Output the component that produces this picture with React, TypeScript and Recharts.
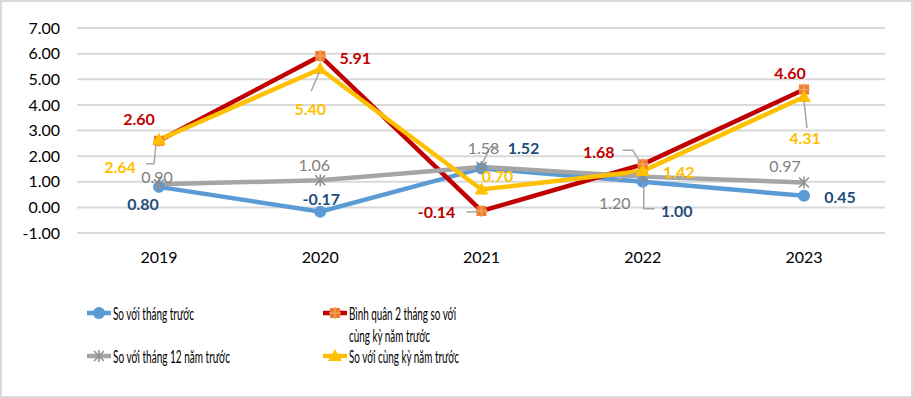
import React from 'react';
import { LineChart, Line, XAxis, YAxis, CartesianGrid, LabelList } from 'recharts';

const years = ['2019', '2020', '2021', '2022', '2023'];
const soVoiThangTruoc = [0.8, -0.17, 1.52, 1.0, 0.45];
const binhQuan2Thang = [2.6, 5.91, -0.14, 1.68, 4.6];
const soVoiThang12 = [0.9, 1.06, 1.58, 1.2, 0.97];
const soVoiCungKy = [2.64, 5.4, 0.7, 1.42, 4.31];
const yTicks = [-1, 0, 1, 2, 3, 4, 5, 6, 7];

// label placement (offset of the label centre from its point), tuned by eye
const blueOffsets = [[-16, 17], [1, -13], [42, -21], [34, 29], [36, 1]];
const redOffsets = [[-20, -22], [35, 2], [-45, 1], [-44, -13], [-14, -17]];
const grayOffsets = [[-2, -8], [-6, -16], [2, -19], [-28, 26], [-19, -17]];
const yellowOffsets = [[-39, 27], [-10, 39], [16, -14], [36, 1], [1, 41]];

// leader lines, relative to the point
const blueLeaders = [null, null, null, [[1, 4], [1, 27], [12, 27]], null];
const redLeaders = [null, null, [[-15, 1], [-4, 1]], [[-20, -14], [-10, -14], [-3, -3]], null];
const grayLeaders = [null, null, [[17, -20], [9, -20], [1, -4]], [[-28, 4], [-6, -4]], null];
const yellowLeaders = [[[-13, 24], [-5, 24], [-3, 5]], [[-9, 22], [-1, 3]], null, null, [[3, 31], [0, 4]]];

const data = years.map((year, i) => ({
  year,
  thangTruoc: soVoiThangTruoc[i],
  binhQuan: binhQuan2Thang[i],
  thang12: soVoiThang12[i],
  cungKy: soVoiCungKy[i],
}));

const FONT = 'Lato, "Open Sans", sans-serif';

const makeLabel = (offsets: number[][], leaders: any[], color: string, weight: number) =>
  (props: any) => {
    const { x, y, value, index } = props;
    if (x == null || y == null) return null;
    const [dx, dy] = offsets[index];
    const leader = leaders[index];
    return (
      <g>
        {leader && (
          <polyline
            points={leader.map((p: number[]) => `${x + p[0]},${y + p[1]}`).join(' ')}
            fill="none"
            stroke="#a5a5a5"
            strokeWidth={1.5}
          />
        )}
        <text
          x={x + dx}
          y={y + dy}
          textAnchor="middle"
          dominantBaseline="central"
          fill={color}
          fontSize={16}
          fontWeight={weight}
          fontFamily={FONT}
        >
          {Number(value).toFixed(2)}
        </text>
      </g>
    );
  };

const CircleDot = (p: any) =>
  p.cx == null ? null : <circle key={p.key} cx={p.cx} cy={p.cy} r={6} fill="#5b9bd5" />;

const StarSquareDot = (p: any) =>
  p.cx == null ? null : (
    <g key={p.key}>
      <rect x={p.cx - 5} y={p.cy - 5} width={10} height={10} fill="#ed7d31" />
      <path
        d={`M${p.cx - 6},${p.cy} L${p.cx + 6},${p.cy} M${p.cx},${p.cy - 6} L${p.cx},${p.cy + 6}`}
        stroke="#f4a25e"
        strokeWidth={1.5}
      />
    </g>
  );

const AsteriskDot = (p: any) =>
  p.cx == null ? null : (
    <path
      key={p.key}
      d={`M${p.cx - 5},${p.cy - 5} L${p.cx + 5},${p.cy + 5} M${p.cx - 5},${p.cy + 5} L${p.cx + 5},${p.cy - 5} M${p.cx},${p.cy - 6} L${p.cx},${p.cy + 6}`}
      stroke="#8f8f8f"
      strokeWidth={1.5}
      fill="none"
    />
  );

const TriangleDot = (p: any) =>
  p.cx == null ? null : (
    <polygon
      key={p.key}
      points={`${p.cx},${p.cy - 7} ${p.cx + 7},${p.cy + 5} ${p.cx - 7},${p.cy + 5}`}
      fill="#ffc000"
    />
  );

const legendItems = [
  { lines: ['So với tháng trước'], widths: [81], color: '#5b9bd5', marker: 'circle' },
  { lines: ['Bình quân 2 tháng so với', 'cùng kỳ năm trước'], widths: [107, 81], color: '#c00000', marker: 'square' },
  { lines: ['So với tháng 12 năm trước'], widths: [117], color: '#a5a5a5', marker: 'asterisk' },
  { lines: ['So với cùng kỳ năm trước'], widths: [110], color: '#ffc000', marker: 'triangle' },
];

function LegendMarker({ kind, cx, cy }: { kind: string; cx: number; cy: number }) {
  const p = { cx, cy };
  if (kind === 'circle') return CircleDot(p);
  if (kind === 'square') return StarSquareDot(p);
  if (kind === 'asterisk') return AsteriskDot(p);
  return TriangleDot(p);
}

function ChartLegend() {
  return (
    <svg width={913} height={100} style={{ position: 'absolute', left: 0, top: 290 }}>
      {legendItems.map((item, i) => {
        const lx = i % 2 === 0 ? 87 : 323;
        const ly = i < 2 ? 23 : 66;
        return (
          <g key={item.lines[0]}>
            <line x1={lx} x2={lx + 24} y1={ly} y2={ly} stroke={item.color} strokeWidth={4.5} />
            <LegendMarker kind={item.marker} cx={lx + 12} cy={ly} />
            {item.lines.map((t, j) => (
              <text
                key={t}
                x={lx + 26}
                y={ly + j * 22}
                dominantBaseline="central"
                fontSize={17}
                fontFamily={FONT}
                fill="#000"
                textLength={item.widths[j]}
                lengthAdjust="spacingAndGlyphs"
              >
                {t}
              </text>
            ))}
          </g>
        );
      })}
    </svg>
  );
}

export default function App() {
  return (
    <div style={{ position: 'relative', width: 913, height: 398, background: '#fff' }}>
      <style>{`body{margin:0}`}</style>
      <LineChart
        width={913}
        height={398}
        data={data}
        margin={{ top: 28, right: 28, bottom: 135, left: 0 }}
      >
        <CartesianGrid stroke="#d9d9d9" strokeWidth={2} vertical={false} />
        <XAxis
          dataKey="year"
          height={30}
          padding={{ left: 82, right: 81 }}
          axisLine={false}
          tickLine={false}
          tickMargin={13}
          tick={{ fill: '#000', fontSize: 16, fontFamily: FONT }}
        />
        <YAxis
          domain={[-1, 7]}
          ticks={yTicks}
          interval={0}
          width={77}
          axisLine={false}
          tickLine={false}
          tickMargin={11}
          tickFormatter={(v: number) => v.toFixed(2)}
          tick={{ fill: '#000', fontSize: 16, fontFamily: FONT }}
        />
        <Line
          dataKey="thangTruoc"
          stroke="#5b9bd5"
          strokeWidth={4.5}
          dot={CircleDot}
          isAnimationActive={false}
        >
          <LabelList content={makeLabel(blueOffsets, blueLeaders, '#1f4e79', 700)} />
        </Line>
        <Line
          dataKey="binhQuan"
          stroke="#c00000"
          strokeWidth={4.5}
          dot={StarSquareDot}
          isAnimationActive={false}
        >
          <LabelList content={makeLabel(redOffsets, redLeaders, '#c00000', 700)} />
        </Line>
        <Line
          dataKey="thang12"
          stroke="#a5a5a5"
          strokeWidth={4.5}
          dot={AsteriskDot}
          isAnimationActive={false}
        >
          <LabelList content={makeLabel(grayOffsets, grayLeaders, '#7f7f7f', 400)} />
        </Line>
        <Line
          dataKey="cungKy"
          stroke="#ffc000"
          strokeWidth={4.5}
          dot={TriangleDot}
          isAnimationActive={false}
        >
          <LabelList content={makeLabel(yellowOffsets, yellowLeaders, '#ffc000', 700)} />
        </Line>
      </LineChart>
      <ChartLegend />
      <div
        style={{
          position: 'absolute',
          inset: 0,
          border: '2px solid #d9d9d9',
          boxSizing: 'border-box',
          pointerEvents: 'none',
        }}
      />
    </div>
  );
}
